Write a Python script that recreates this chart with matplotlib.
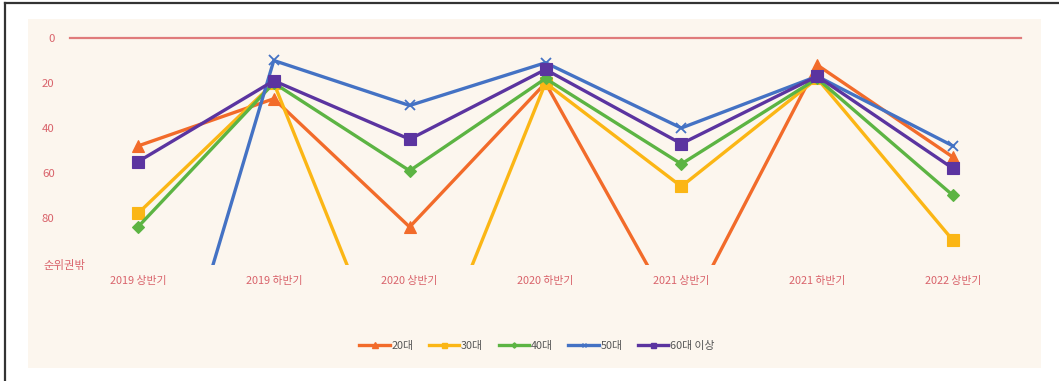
import matplotlib
matplotlib.use("Agg")
import matplotlib.pyplot as plt
from matplotlib.patches import Rectangle
from matplotlib.lines import Line2D

plt.rcParams['font.family'] = ['Noto Sans CJK KR', 'DejaVu Sans']

periods = ['2019 상반기', '2019 하반기', '2020 상반기', '2020 하반기',
           '2021 상반기', '2021 하반기', '2022 상반기']

# Ranking per half-year; ranks beyond 100 fall outside the chart ("순위권밖")
rank_20s = [48, 27, 84, 20, 128, 12, 53]
rank_30s = [78, 20, 170, 20, 66, 18, 90]
rank_40s = [84, 20, 59, 18, 56, 18, 70]
rank_50s = [213, 10, 30, 11, 40, 17, 48]
rank_60s = [55, 19, 45, 14, 47, 17, 58]

series_names = ['20대', '30대', '40대', '50대', '60대 이상']
y_ticks = [0, 20, 40, 60, 80]
out_label = '순위권밖'

W, H = 1059, 381
fig = plt.figure(figsize=(W / 100, H / 100), dpi=100)
fig.patch.set_facecolor('white')

# page frame and tinted panel
fig.add_artist(Line2D([5 / W, 5 / W], [0, 1 - 3 / H], color='#333333', lw=1.6,
                      transform=fig.transFigure))
fig.add_artist(Line2D([5 / W, 1], [1 - 3 / H, 1 - 3 / H], color='#333333', lw=1.6,
                      transform=fig.transFigure))
fig.add_artist(Rectangle((28 / W, 1 - 368 / H), (1041 - 28) / W, (368 - 19) / H,
                         transform=fig.transFigure, facecolor='#fcf6ee',
                         edgecolor='none', zorder=0))

ax = fig.add_axes([70 / W, 1 - 265 / H, (1021 - 70) / W, (265 - 38) / H])
ax.set_facecolor('none')
for s in ax.spines.values():
    s.set_visible(False)

label_color = '#d9636b'
x = list(range(len(periods)))

styles = [
    (rank_20s, '#f26b2a', '^', 9),
    (rank_30s, '#fbb615', 's', 8),
    (rank_40s, '#5cb443', 'D', 6),
    (rank_50s, '#4472c4', 'x', 7),
    (rank_60s, '#5b34a0', 's', 8),
]
handles = []
for (vals, col, mk, ms), name in zip(styles, series_names):
    ax.plot(x, vals, color=col, lw=2.4, marker=mk, markersize=ms,
            markeredgecolor=col, markeredgewidth=1.3 if mk == 'x' else 0.8,
            label=name)
    handles.append(Line2D([], [], color=col, lw=2.4, marker=mk,
                          markersize=ms * 0.45, markeredgecolor=col))

ax.axhline(0, color='#e07b7b', lw=1.6, clip_on=False, zorder=1)

ax.set_xlim(-0.5, len(periods) - 0.5)
ax.set_ylim(100.9, 0)
ax.set_yticks(y_ticks)
ax.set_yticklabels([str(t) for t in y_ticks])
ax.set_xticks(x)
ax.set_xticklabels(periods)
ax.tick_params(axis='y', length=0, pad=11, labelsize=8.2, labelcolor=label_color)
ax.tick_params(axis='x', length=0, pad=8, labelsize=7.8, labelcolor=label_color)

fig.text(43 / W, 1 - 265 / H, out_label, color=label_color, fontsize=8.2,
         ha='left', va='center')

fig.legend(handles, series_names, loc='center', bbox_to_anchor=(537 / W, 1 - 346 / H),
           ncol=5, frameon=False, fontsize=7.8, labelcolor='#555555',
           handlelength=2.8, handletextpad=0.15, columnspacing=1.45)

fig.savefig('out.png', dpi=100, facecolor='white')
